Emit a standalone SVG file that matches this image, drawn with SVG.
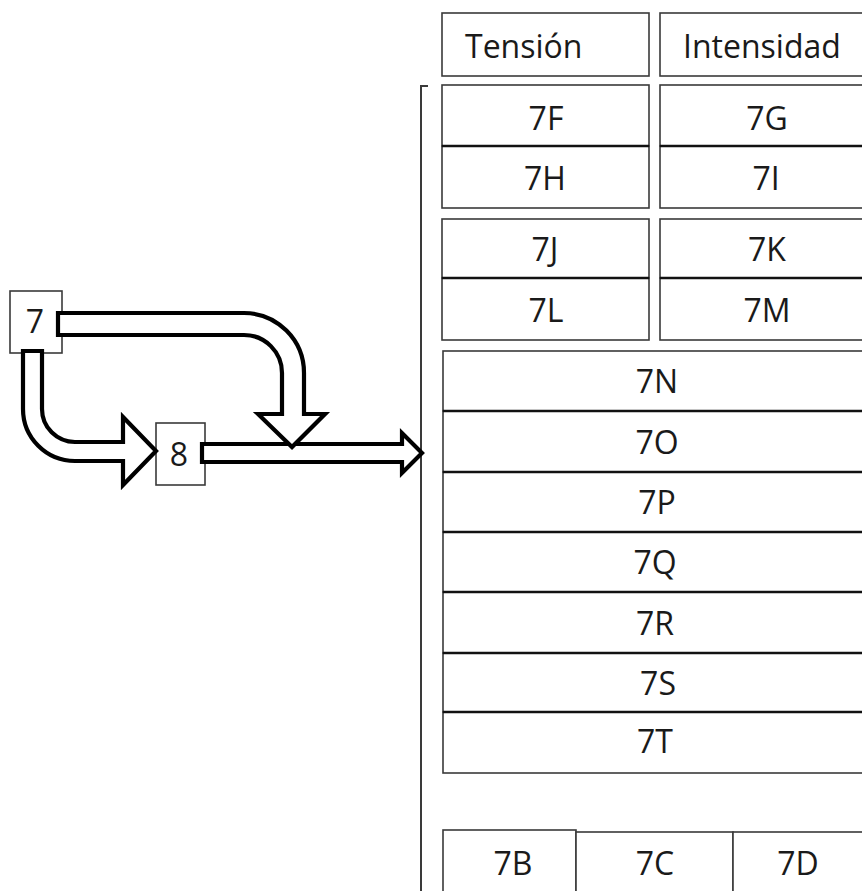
<svg xmlns="http://www.w3.org/2000/svg" width="862" height="891" viewBox="0 0 862 891">
<style>
  .box { fill: #fff; stroke: #3a3a3a; stroke-width: 1.6; }
  .lbl { font-family: "Open Sans", "Liberation Sans", sans-serif; font-size: 32px; fill: #1a1a1a; }
  .c { text-anchor: middle; }
  .arrow { fill: #fff; stroke: #000; stroke-width: 4.2; stroke-linejoin: miter; }
  .brk { fill: none; stroke: #3a3a3a; stroke-width: 2; }
  .div { stroke: #111; stroke-width: 2.6; }
</style>
<rect width="862" height="891" fill="#fff"/>

<g id="header-tension"><rect class="box" x="442" y="13" width="207" height="63"/><text class="lbl" x="465" y="58">Tensión</text></g>
<g id="header-intensidad"><rect class="box" x="660" y="13" width="220" height="63"/><text class="lbl" x="683" y="58">Intensidad</text></g>

<g id="n7F"><rect class="box" x="442" y="85" width="207" height="61"/><text class="lbl c" x="546" y="130">7F</text></g>
<g id="n7H"><rect class="box" x="442" y="146" width="207" height="62"/><text class="lbl c" x="545" y="190">7H</text></g>
<g id="n7G"><rect class="box" x="660" y="85" width="220" height="61"/><text class="lbl c" x="767" y="130">7G</text></g>
<g id="n7I"><rect class="box" x="660" y="146" width="220" height="62"/><text class="lbl c" x="766" y="190">7I</text></g>

<g id="n7J"><rect class="box" x="442" y="219" width="207" height="59"/><text class="lbl c" x="545" y="261">7J</text></g>
<g id="n7L"><rect class="box" x="442" y="278" width="207" height="62"/><text class="lbl c" x="546" y="322">7L</text></g>
<g id="n7K"><rect class="box" x="660" y="219" width="220" height="59"/><text class="lbl c" x="767" y="261">7K</text></g>
<g id="n7M"><rect class="box" x="660" y="278" width="220" height="62"/><text class="lbl c" x="767" y="322">7M</text></g>

<g id="n7N"><rect class="box" x="443" y="351" width="440" height="60"/><text class="lbl c" x="657" y="393">7N</text></g>
<g id="n7O"><rect class="box" x="443" y="411" width="440" height="61"/><text class="lbl c" x="657" y="454">7O</text></g>
<g id="n7P"><rect class="box" x="443" y="472" width="440" height="60"/><text class="lbl c" x="657" y="514">7P</text></g>
<g id="n7Q"><rect class="box" x="443" y="532" width="440" height="60"/><text class="lbl c" x="655" y="574">7Q</text></g>
<g id="n7R"><rect class="box" x="443" y="592" width="440" height="61"/><text class="lbl c" x="655" y="635">7R</text></g>
<g id="n7S"><rect class="box" x="443" y="653" width="440" height="59"/><text class="lbl c" x="658" y="695">7S</text></g>
<g id="n7T"><rect class="box" x="443" y="712" width="440" height="61"/><text class="lbl c" x="655" y="753">7T</text></g>

<g id="dividers">
  <line class="div" x1="442" y1="146" x2="649" y2="146"/>
  <line class="div" x1="660" y1="146" x2="862" y2="146"/>
  <line class="div" x1="442" y1="278" x2="649" y2="278"/>
  <line class="div" x1="660" y1="278" x2="862" y2="278"/>
  <line class="div" x1="443" y1="411" x2="862" y2="411"/>
  <line class="div" x1="443" y1="472" x2="862" y2="472"/>
  <line class="div" x1="443" y1="532" x2="862" y2="532"/>
  <line class="div" x1="443" y1="592" x2="862" y2="592"/>
  <line class="div" x1="443" y1="653" x2="862" y2="653"/>
  <line class="div" x1="443" y1="712" x2="862" y2="712"/>
</g>

<g id="n7B"><rect class="box" x="443" y="830" width="133" height="80"/><text class="lbl c" x="513" y="875">7B</text></g>
<g id="n7C"><rect class="box" x="576" y="832" width="157" height="80"/><text class="lbl c" x="655" y="875">7C</text></g>
<g id="n7D"><rect class="box" x="733" y="832" width="150" height="80"/><text class="lbl c" x="798" y="875">7D</text></g>

<g id="bracket"><path class="brk" d="M428 86 H421 V891"/></g>

<g id="n7"><rect class="box" x="10" y="291" width="52" height="62"/><text class="lbl c" x="35" y="333">7</text></g>
<g id="n8"><rect class="box" x="156" y="423" width="49" height="62"/><text class="lbl c" x="179" y="466">8</text></g>

<g id="connectors">
  <path class="arrow" d="M202 444 H402 V433 L422 453 L402 473 V462 H202 Z"/>
  <path class="arrow" d="M58 313 H244 A60 60 0 0 1 304 373 V414 H325 L292 447 L258 414 H282 V373 A38 38 0 0 0 244 335 H58 Z"/>
  <path class="arrow" d="M23 351 V409 A52 52 0 0 0 75 461 H123 V485 L156 451 L123 417 V442 H75 A33 33 0 0 1 42 409 V351 Z"/>
</g>
</svg>
